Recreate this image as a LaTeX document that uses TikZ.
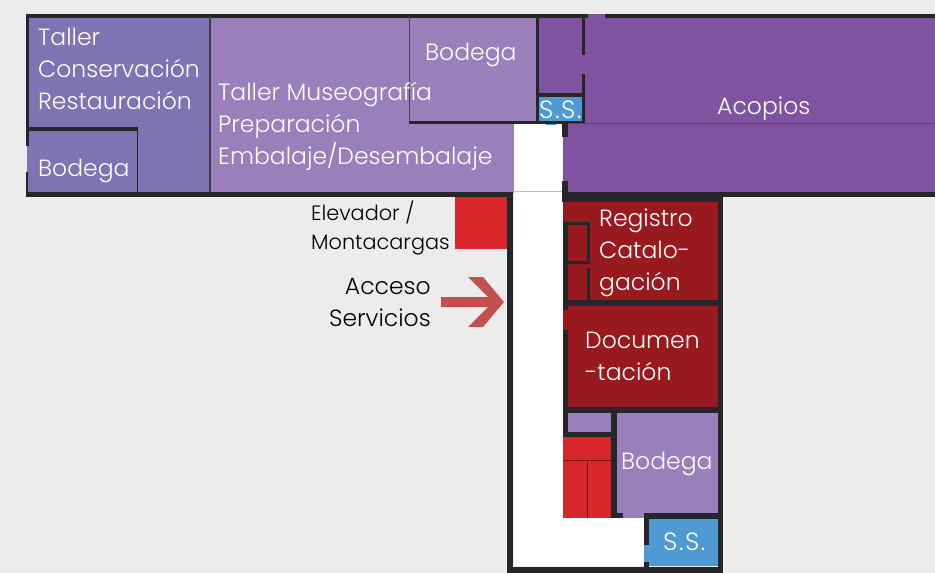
\documentclass[tikz,border=0pt]{standalone}
\usepackage{fontspec}
\setmainfont{Poppins Light}
\definecolor{bgc}{HTML}{ECECEC}
\definecolor{wall}{HTML}{26262A}
\definecolor{blueviolet}{HTML}{7F73B3}
\definecolor{lav}{HTML}{9A80BA}
\definecolor{purp}{HTML}{7F53A0}
\definecolor{maroon}{HTML}{991A1E}
\definecolor{redr}{HTML}{D9262A}
\definecolor{skyb}{HTML}{4F9AD2}
\definecolor{arrowr}{HTML}{C2504E}
\tikzset{x=1pt,y=-1pt,
 lbl/.style={text=white,font=\fontsize{23.5}{24}\selectfont,anchor=base west,inner sep=0pt},
 ssl/.style={lbl,font=\fontsize{25}{24}\selectfont},
 dark/.style={text=black,font=\fontsize{23.5}{24}\selectfont,anchor=base east,inner sep=0pt},
 darksm/.style={text=black,font=\fontsize{20.8}{22}\selectfont,anchor=base west,inner sep=0pt},
 wl/.style={fill=wall},
 thinl/.style={draw=wall!75!lav,line width=1.1pt}}
\begin{document}
\begin{tikzpicture}
\useasboundingbox (0,0) rectangle (935,573);
\fill[bgc] (0,0) rectangle (935,573);
% rooms
\fill[blueviolet] (26.5,16) rectangle (210,193);
\fill[lav] (210,16) rectangle (537,122);
\fill[lav] (210,122) rectangle (514,193);
\fill[purp] (537,16) rectangle (935,94);
\fill[purp] (584,94) rectangle (935,124);
\fill[purp] (562,124) rectangle (935,193);
\fill[purp] (588,14) rectangle (605,17.5);
\fill[white] (514,123) rectangle (563,566);
\fill[white] (563,518) rectangle (645,566);
\fill[maroon] (563,201) rectangle (718,408);
\fill[lav] (568,412) rectangle (612,433);
\fill[lav] (616,412) rectangle (718,518);
\fill[redr] (563,437) rectangle (612,518);
\fill[skyb] (644,518) rectangle (718,566);
\fill[skyb] (538,96) rectangle (582,122);
\fill[skyb] (546,122) rectangle (556,125);
\fill[redr] (455,197) rectangle (508,249);
\draw[bgc!80!black,line width=.6pt] (514,191.5) -- (562,191.5);
% outer walls
\fill[wl] (26,14) rectangle (588,17.5);
\fill[wl] (605,14) rectangle (935,17.5);
\fill[wl] (26,14) rectangle (29,146);
\fill[wl] (26,172) rectangle (28,196);
\fill[wl] (26,191.5) rectangle (510,196.5);
\fill[wl] (562,191.5) rectangle (935,196.5);
\fill[wl] (562,191.5) rectangle (723,202);
\fill[wl] (507,192) rectangle (513,573);
\fill[wl] (507,566.5) rectangle (723,573);
\fill[wl] (718,192) rectangle (723,573);
% west rooms
\fill[wl] (28,127) rectangle (138,131);
\fill[wl] (136.5,127) rectangle (138,192);
\draw[thinl] (210,16) -- (210,192);
\draw[thinl] (409.5,16) -- (409.5,122);
% bodega and s.s. block
\fill[wl] (409,120.5) rectangle (585,123.5);
\fill[wl] (536,16) rectangle (539,123);
\fill[wl] (537,93) rectangle (584,97);
\fill[wl] (582,16) rectangle (585,55);
\fill[wl] (582,74) rectangle (585,123);
\draw[draw=purp!75!black,line width=.8pt] (566,123.7) -- (935,123.7);
\fill[wl] (562,123) rectangle (568,137);
\fill[wl] (562,181) rectangle (568,197);
% registro
\fill[wl] (563,222) rectangle (590,225);
\fill[wl] (563,222) rectangle (568,310);
\fill[wl] (587,222) rectangle (590,262);
\fill[wl] (587,268) rectangle (590,302);
\fill[wl] (566,261) rectangle (590,264);
\fill[wl] (563,300) rectangle (719,306);
% documentacion down
\fill[wl] (563,330) rectangle (568,437);
\fill[wl] (563,407) rectangle (719,413);
\fill[wl] (563,432) rectangle (617,437);
\fill[wl] (611,407) rectangle (617,518);
\fill[wl] (611,513) rectangle (623,518);
\fill[wl] (644,513) rectangle (719,519);
\fill[wl] (644,513) rectangle (649,545);
\fill[wl] (644,562) rectangle (649,568);
\fill[skyb] (644,545) rectangle (649,562);
\draw[maroon!75!black,line width=.8pt] (563,460) -- (612,460);
\draw[maroon!75!black,line width=.8pt] (587,460) -- (587,518);
% arrow
\fill[arrowr] (441,297) -- (488,297) -- (468,277) -- (483,277) -- (504,302) -- (483,327) -- (468,327) -- (488,307) -- (441,307) -- cycle;
% labels
\node[lbl] (t1) at (38,45) {Taller};
\node[lbl] (t2) at (38,77) {Conservación};
\node[lbl] (t3) at (38,109) {Restauración};
\node[lbl] (b1) at (38,176) {Bodega};
\node[lbl] (m1) at (218,100) {Taller Museografía};
\node[lbl] (m2) at (218,132) {Preparación};
\node[lbl] (m3) at (218,164) {Embalaje/Desembalaje};
\node[lbl] (b2) at (425,60) {Bodega};
\node[lbl] (ac) at (717,114) {Acopios};
\node[ssl] (s1) at (539,118) {S\kern1.5pt.\kern1.5pt S\kern1.5pt.};
\node[lbl] (r1) at (599,226) {Registro};
\node[lbl] (r2) at (599,258) {Catalo-};
\node[lbl] (r3) at (599,290) {gación};
\node[lbl] (d1) at (585,348) {Documen};
\node[lbl] (d2) at (585,380) {-tación};
\node[lbl] (b3) at (621,469) {Bodega};
\node[ssl] (s2) at (663,550) {S\kern1.5pt.\kern1.5pt S\kern1.5pt.};
\node[darksm] (e1) at (311,220) {Elevador /};
\node[darksm] (e2) at (311,249) {Montacargas};
\node[dark] (a1) at (431,294) {Acceso};
\node[dark] (a2) at (431,326) {Servicios};
\end{tikzpicture}
\end{document}
